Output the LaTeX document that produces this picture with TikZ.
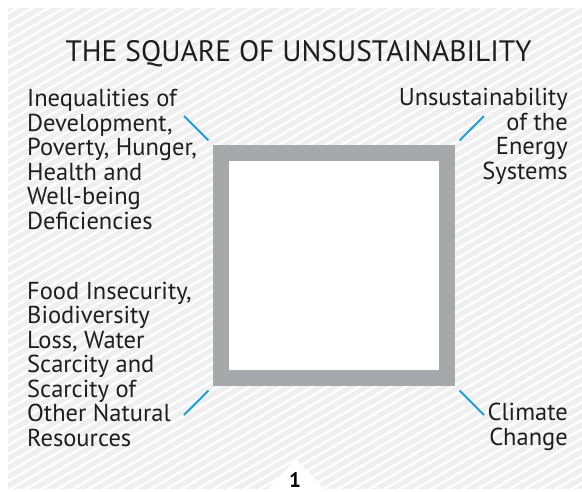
\documentclass[tikz,border=0pt]{standalone}
\usepackage{fontspec}
\setmainfont{PT Sans}
\usetikzlibrary{positioning}
\definecolor{hatchbg}{HTML}{EFEFEF}
\definecolor{framegray}{HTML}{A7A8AB}
\definecolor{leadblue}{HTML}{1AA0DC}
\definecolor{inkgray}{HTML}{1E1E1E}
\tikzset{
    label text/.style={
        font=\fontsize{24.5}{24.5}\selectfont,
        text=inkgray,
        inner sep=0pt,
    },
    title text/.style={
        font=\fontsize{29.5}{32}\selectfont,
        text=inkgray,
        inner sep=0pt,
    },
    frame/.style={
        rectangle,
        draw=framegray,
        fill=white,
        line width=16pt,
        minimum width=226pt,
        minimum height=225pt,
    },
    lead/.style={
        draw=leadblue,
        line width=2pt,
        shorten <=6.5pt,
    },
}

\begin{document}
\begin{tikzpicture}[x=1pt,y=-1pt]
        \useasboundingbox (0,0) rectangle (582,491);
        % striped backdrop
        \fill[hatchbg] (8,8) rectangle (582,489);
        \begin{scope}
            \clip (8,8) rectangle (582,489);
            \foreach \c in {0,9,...,1000}
                \draw[white,line width=2.4pt] (0,\c) -- (582,\c-336);
        \end{scope}
        \fill[white] (266,491) -- (296,459) -- (326,491) -- cycle;
        \node[font=\fontsize{21}{22}\selectfont\bfseries,inner sep=0pt,anchor=base] (num) at (295,487) {1};

        \node[title text,anchor=base] (title) at (298.5,61) {THE SQUARE OF UNSUSTAINABILITY};
        \node[frame] (sq) at (334,265.5) {};

        % text blocks sit on the baseline of their last line
        \node[label text,align=left,anchor=base west] (ineq) at (27,229)
            {Inequalities of\\Development,\\Poverty, Hunger,\\Health and\\Well-being\\Deficiencies};
        \node[label text,align=left,anchor=base west] (food) at (27,446)
            {Food Insecurity,\\Biodiversity\\Loss, Water\\Scarcity and\\Scarcity of\\Other Natural\\Resources};
        \node[label text,align=right,anchor=base east] (energy) at (568,179)
            {Unsustainability\\of the\\Energy\\Systems};
        \node[label text,align=right,anchor=base east] (climate) at (568,445)
            {Climate\\Change};

        % short leads from the corners
        \draw[lead] (sq.north west) -- ++(-29,-29);
        \draw[lead] (sq.north east) -- ++(29,-29);
        \draw[lead] (sq.south west) -- ++(-29,29);
        \draw[lead] (sq.south east) -- ++(29,29);
\end{tikzpicture}
\end{document}
